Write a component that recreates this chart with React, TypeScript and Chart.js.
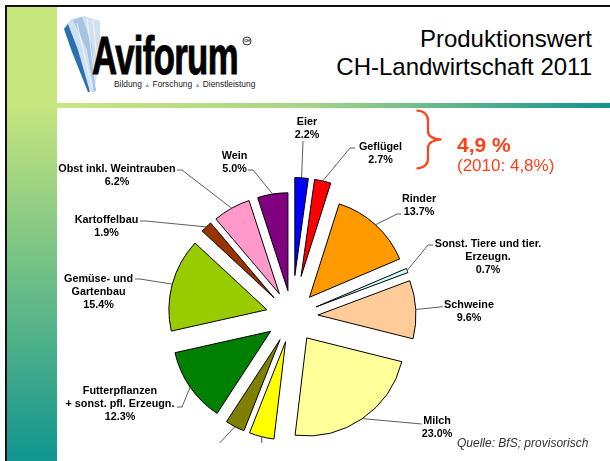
import React, { useEffect, useRef } from "react";
import { Chart, registerables } from "chart.js";

Chart.register(...registerables);

// ---- data ----
const categories = [
  "Eier",
  "Geflügel",
  "Rinder",
  "Sonst. Tiere und tier. Erzeugn.",
  "Schweine",
  "Milch",
  "Getreide",
  "Handelsgewächse",
  "Futterpflanzen + sonst. pfl. Erzeugn.",
  "Gemüse- und Gartenbau",
  "Kartoffelbau",
  "Obst inkl. Weintrauben",
  "Wein",
];
const shares = [2.2, 2.7, 13.7, 0.7, 9.6, 23.0, 4.1, 3.2, 12.3, 15.4, 1.9, 6.2, 5.0];
const labelLines = [
  ["Eier"],
  ["Geflügel"],
  ["Rinder"],
  ["Sonst. Tiere und tier.", "Erzeugn."],
  ["Schweine"],
  ["Milch"],
  ["Getreide"],
  ["Handelsgewächse"],
  ["Futterpflanzen", "+ sonst. pfl. Erzeugn."],
  ["Gemüse- und", "Gartenbau"],
  ["Kartoffelbau"],
  ["Obst inkl. Weintrauben"],
  ["Wein"],
];

// ---- styles ----
const sliceColors = [
  "#0000ff", "#ff0000", "#ff9900", "#ccffff", "#ffcc99", "#ffff99", "#ffff00",
  "#808000", "#008000", "#99cc00", "#993300", "#ff99cc", "#800080",
];
const sliceExplode = [41, 41, 26, 26, 26, 26, 26, 26, 26, 26, 26, 26, 26];
// label layout relative to pie centre: text centre/baseline (tx,ty), leader start (sx,sy), optional elbow (ex,ey)
const labelLayout: any[] = [
  { tx: 15, ty: -192, sx: 11, sy: -175.5 },
  { tx: 88.5, ty: -166.5, sx: 63, sy: -168.5, ex: 58, ey: -168.5 },
  { tx: 127, ty: -114.8, sx: 109, sy: -102.5, ex: 105, ey: -102.5 },
  { tx: 196, ty: -69.8, sx: 141, sy: -71.5, ex: 136, ey: -71.5 },
  { tx: 177, ty: -8.5, sx: 151, sy: -9.8 },
  { tx: 145, ty: 107.5, sx: 129.7, sy: 107.5 },
  { tx: -30, ty: 140.5, sx: -30, sy: 130.5 },
  { tx: -97, ty: 140.5, sx: -78, sy: 132.5 },
  { tx: -172, ty: 77.5, sx: -115, sy: 90.5, ex: -110, ey: 90.5 },
  { tx: -193.5, ty: -34.8, sx: -157, sy: -37.5, ex: -152, ey: -37.5 },
  { tx: -185.5, ty: -93.8, sx: -152, sy: -95.5, ex: -146, ey: -95.5 },
  { tx: -175, ty: -144.8, sx: -115, sy: -146.5, ex: -110, ey: -146.5 },
  { tx: -57.5, ty: -157.2, sx: -44, sy: -146.5, ex: -39, ey: -146.5 },
];
const LINE_H = 13;
const LABEL_FONT = 'bold 10.8px "Liberation Sans", Arial, sans-serif';
const CLIP_BOTTOM = 443;

const explodePlugin = {
  id: "explodeSlices",
  beforeDatasetDraw(chart: any, args: any) {
    args.meta.data.forEach((arc: any, i: number) => {
      if (arc.__exploded) return;
      const orig = arc.draw;
      arc.draw = function (ctx: CanvasRenderingContext2D, area: any) {
        const mid = (this.startAngle + this.endAngle) / 2;
        const e = sliceExplode[i] || 0;
        ctx.save();
        ctx.translate(Math.cos(mid) * e, Math.sin(mid) * e);
        orig.call(this, ctx, area);
        ctx.restore();
      };
      arc.__exploded = true;
    });
  },
};

const labelPlugin = {
  id: "sliceLabels",
  afterDatasetsDraw(chart: any) {
    const meta = chart.getDatasetMeta(0);
    const ctx: CanvasRenderingContext2D = chart.ctx;
    const cx = meta.data[0].x;
    const cy = meta.data[0].y;
    ctx.save();
    ctx.beginPath();
    ctx.rect(0, 0, chart.width, CLIP_BOTTOM);
    ctx.clip();
    meta.data.forEach((arc: any, i: number) => {
      const mid = (arc.startAngle + arc.endAngle) / 2;
      const d = (sliceExplode[i] || 0) + arc.outerRadius;
      const px = arc.x + Math.cos(mid) * d;
      const py = arc.y + Math.sin(mid) * d;
      const L = labelLayout[i];
      ctx.strokeStyle = "#333";
      ctx.lineWidth = 0.8;
      ctx.beginPath();
      ctx.moveTo(cx + L.sx, cy + L.sy);
      if (L.ex !== undefined) ctx.lineTo(cx + L.ex, cy + L.ey);
      ctx.lineTo(px, py);
      ctx.stroke();
      ctx.fillStyle = "#000";
      ctx.font = LABEL_FONT;
      ctx.textAlign = "center";
      ctx.textBaseline = "alphabetic";
      const lines = [...labelLines[i], shares[i].toFixed(1) + "%"];
      lines.forEach((t, k) => ctx.fillText(t, cx + L.tx, cy + L.ty + k * LINE_H));
    });
    ctx.restore();
  },
};

export default function App() {
  const ref = useRef<HTMLCanvasElement>(null);
  useEffect(() => {
    const chart = new Chart(ref.current!, {
      type: "pie",
      data: {
        labels: categories,
        datasets: [
          {
            data: shares,
            backgroundColor: sliceColors,
            borderColor: "#000",
            borderWidth: 1,
            borderJoinStyle: "miter",
            clip: false,
          } as any,
        ],
      },
      options: {
        responsive: false,
        animation: false,
        events: [],
        radius: 98,
        layout: { padding: { left: 0, right: 26, top: 172, bottom: 0 } },
        plugins: { legend: { display: false }, tooltip: { enabled: false }, title: { display: false } },
      } as any,
      plugins: [explodePlugin, labelPlugin],
    });
    return () => chart.destroy();
  }, []);

  const abs: React.CSSProperties = { position: "absolute", whiteSpace: "nowrap" };
  const red = "#ff4018";
  return (
    <div
      style={{
        position: "fixed",
        left: 0,
        top: 0,
        width: 610,
        height: 461,
        background: "#fff",
        overflow: "hidden",
        fontFamily: '"Liberation Sans", Arial, sans-serif',
      }}
    >
      {/* frame */}
      <div style={{ ...abs, left: 5, top: 5, width: 605, height: 2, background: "#111" }} />
      <div style={{ ...abs, left: 5, top: 5, width: 2, height: 456, background: "#111" }} />
      <div
        style={{
          ...abs,
          left: 7,
          top: 7,
          width: 50,
          height: 454,
          background: "linear-gradient(to bottom, #c8e67e 0px, #c8e67e 95px, #11958f 454px)",
        }}
      />
      <div
        style={{
          ...abs,
          left: 57,
          top: 103,
          width: 553,
          height: 5,
          background: "linear-gradient(to right, #c8e67e 0%, #a8d488 45%, #12948f 100%)",
        }}
      />

      {/* logo graphic */}
      <svg style={{ position: "absolute", left: 0, top: 0 }} width={610} height={461}>
        <polygon points="64,28 71,19 84,16 100,21 100,45 95,92 91,92" fill="#cfe0ef" />
        <polygon points="73,20 82,17 92,45 96,91 94,91 87,50" fill="#a3c4e2" />
        <polygon points="64,29 68,24 78,50 90,92 88,92 72,52" fill="#2a6fb0" />
        <line x1="77" y1="23" x2="92" y2="88" stroke="#fff" strokeWidth="0.7" />
        <line x1="87" y1="19" x2="96" y2="88" stroke="#fff" strokeWidth="0.7" />
        <line x1="93" y1="20" x2="98" y2="70" stroke="#fff" strokeWidth="0.7" />
        <circle cx="247" cy="41" r="4" fill="#fff" stroke="#000" strokeWidth="0.8" />
        <text x="247" y="42.4" fontSize="3.8" textAnchor="middle" fontFamily="Liberation Sans, Arial" fontWeight="bold">
          CH
        </text>
        {/* brace */}
        <path
          d="M416.5,110.5 C424,111 428,114 428,121 L428,131 C428,136 432,139 441.5,139.5 C432,140 428,143 428,148 L428,158 C428,165 424,168 416.5,168.5"
          fill="none"
          stroke={red}
          strokeWidth={2.2}
        />
      </svg>
      <div
        style={{
          ...abs,
          left: 92,
          top: 29,
          fontSize: 53,
          lineHeight: "53px",
          fontWeight: 700,
          letterSpacing: -1,
          transform: "scaleX(0.655)",
          transformOrigin: "0 0",
          color: "#000",
          WebkitTextStroke: "1px #000",
        }}
      >
        Aviforum
      </div>
      <div style={{ ...abs, left: 114, top: 80.4, fontSize: 8.4, lineHeight: "8.4px", color: "#222" }}>
        Bildung <span style={{ color: "#8aa9bf", fontSize: 6 }}>▲</span> Forschung{" "}
        <span style={{ color: "#8aa9bf", fontSize: 6 }}>▲</span> Dienstleistung
      </div>

      {/* title */}
      <div style={{ ...abs, right: 18, top: 25, fontSize: 24, lineHeight: "28px", textAlign: "right", color: "#000" }}>
        Produktionswert
        <br />
        CH-Landwirtschaft 2011
      </div>

      <canvas
        ref={ref}
        width={610}
        height={461}
        style={{ position: "absolute", left: 0, top: 0, width: 610, height: 461 }}
      />

      {/* annotation */}
      <div style={{ ...abs, left: 457, top: 133.9, fontSize: 21, lineHeight: "21px", fontWeight: 700, color: red }}>
        4,9 %
      </div>
      <div style={{ ...abs, left: 457, top: 157.3, fontSize: 17, lineHeight: "17px", color: red }}>(2010: 4,8%)</div>
      <div style={{ ...abs, left: 457, top: 437.3, fontSize: 12, lineHeight: "12px", fontStyle: "italic", color: "#333" }}>
        Quelle: BfS; provisorisch
      </div>
    </div>
  );
}
